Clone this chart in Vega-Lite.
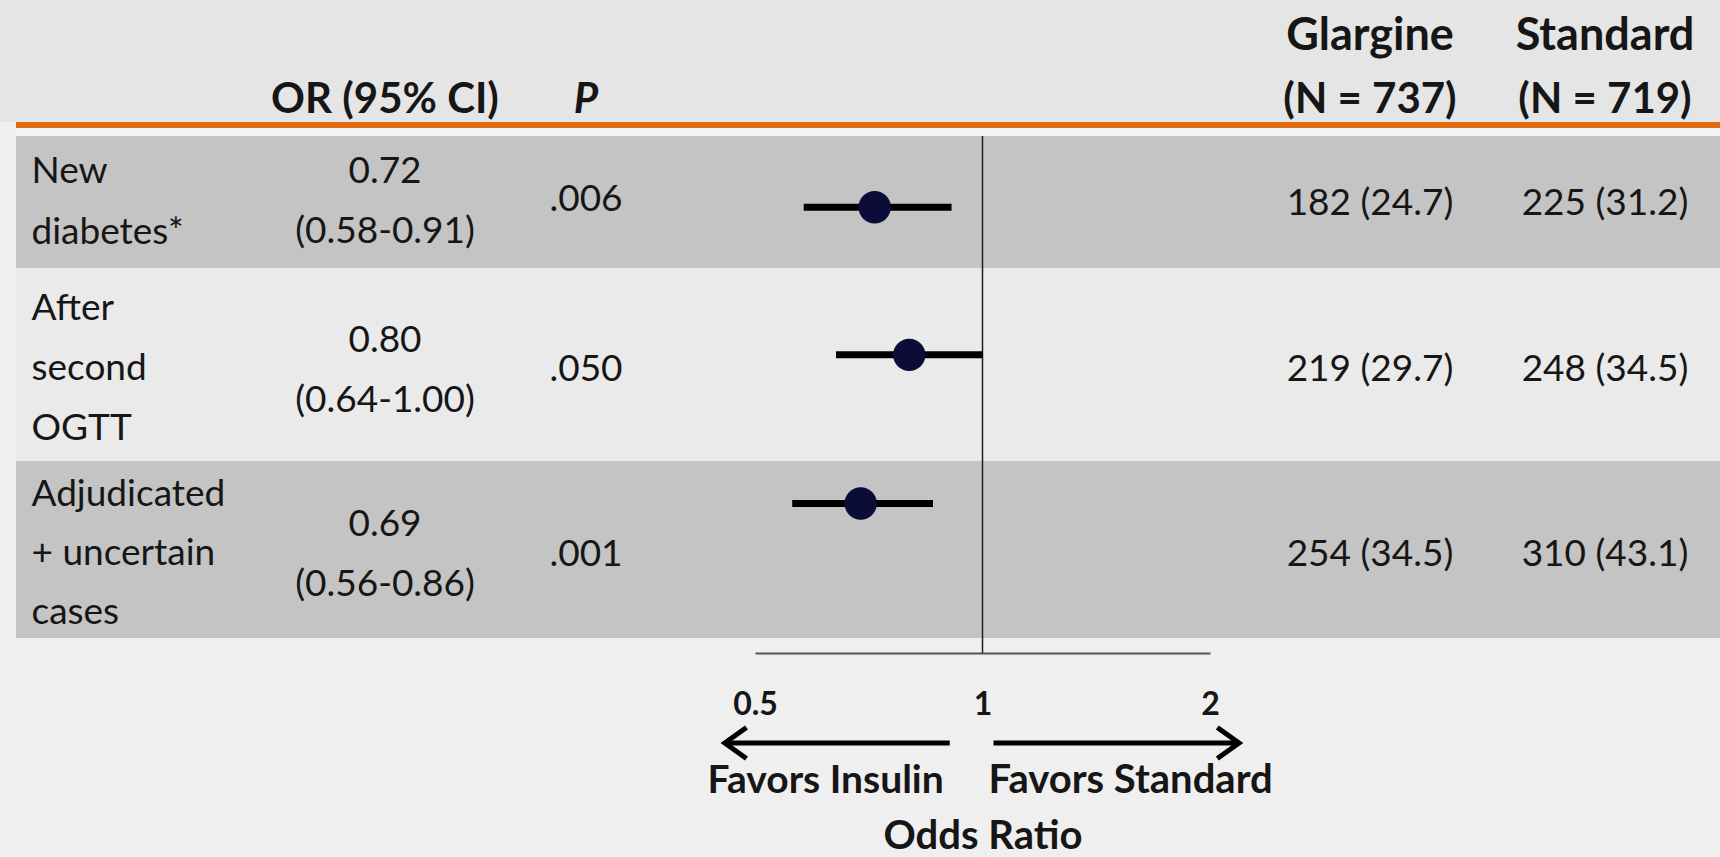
{
"$schema": "https://vega.github.io/schema/vega-lite/v6.json",
"background": "#efefef",
"padding": 0,
"columns": 9,
"spacing": 0,
"bounds": "flush",
"align": "each",
"config": {"view": {"stroke": null}, "concat": {"spacing": 0}, "text": {"font": "Lato", "fontSize": 37, "color": "#161616", "lineHeight": 60, "lineBreak": "\n"}, "axis": {"labelFont": "Lato", "titleFont": "Lato"}},
"datasets": {
"rows": [
{"id": 1, "outcome": "New diabetes", "label": "New\ndiabetes*", "or": 0.72, "lo": 0.58, "hi": 0.91, "or_text": "0.72\n(0.58-0.91)", "p": ".006", "glargine": "182 (24.7)", "standard": "225 (31.2)"},
{"id": 2, "outcome": "After second OGTT", "label": "After\nsecond\nOGTT", "or": 0.80, "lo": 0.64, "hi": 1.00, "or_text": "0.80\n(0.64-1.00)", "p": ".050", "glargine": "219 (29.7)", "standard": "248 (34.5)"},
{"id": 3, "outcome": "Adjudicated + uncertain cases", "label": "Adjudicated\n+ uncertain\ncases", "or": 0.69, "lo": 0.56, "hi": 0.86, "or_text": "0.69\n(0.56-0.86)", "p": ".001", "glargine": "254 (34.5)", "standard": "310 (43.1)"}
],
"headers": [
{"col": "glargine", "line": 1, "text": "Glargine"},
{"col": "standard", "line": 1, "text": "Standard"},
{"col": "or", "line": 2, "text": "OR (95% CI)"},
{"col": "p", "line": 2, "text": "P"},
{"col": "glargine", "line": 2, "text": "(N = 737)"},
{"col": "standard", "line": 2, "text": "(N = 719)"}
],
"refline": [{"value": 1}],
"arrows": [
{"side": "Insulin", "from": 0.905, "to": 0.456, "label": "Favors Insulin"},
{"side": "Standard", "from": 1.034, "to": 2.185, "label": "Favors Standard"}
]
},
"concat": [
{"width":16,"height":72,"view":{"fill":"#e5e5e5"},"data":{"values":[]},"mark":"text","encoding":{}},
{"width":254,"height":72,"view":{"fill":"#e5e5e5"},"data":{"values":[]},"mark":"text","encoding":{}},
{"width":230,"height":72,"view":{"fill":"#e5e5e5"},"data":{"values":[]},"mark":"text","encoding":{}},
{"width":172,"height":72,"view":{"fill":"#e5e5e5"},"data":{"values":[]},"mark":"text","encoding":{}},
{"width":83,"height":72,"view":{"fill":"#e5e5e5"},"data":{"values":[]},"mark":"text","encoding":{}},
{"width":455,"height":72,"view":{"fill":"#e5e5e5"},"data":{"values":[]},"mark":"text","encoding":{}},
{"width":40,"height":72,"view":{"fill":"#e5e5e5"},"data":{"values":[]},"mark":"text","encoding":{}},
{"width":240,"height":72,"view":{"fill":"#e5e5e5"},"data":{"name":"headers"},"transform":[{"filter":"datum.col == 'glargine' && datum.line == 1"}],"mark":{"type":"text","fontSize":45,"fontWeight":"bold"},"encoding":{"text":{"field":"text"}}},
{"width":230,"height":72,"view":{"fill":"#e5e5e5"},"data":{"name":"headers"},"transform":[{"filter":"datum.col == 'standard' && datum.line == 1"}],"mark":{"type":"text","fontSize":45,"fontWeight":"bold"},"encoding":{"text":{"field":"text"}}},

{"width":16,"height":50,"view":{"fill":"#e5e5e5"},"data":{"values":[]},"mark":"text","encoding":{}},
{"width":254,"height":50,"view":{"fill":"#e5e5e5"},"data":{"values":[]},"mark":"text","encoding":{}},
{"width":230,"height":50,"view":{"fill":"#e5e5e5"},"data":{"name":"headers"},"transform":[{"filter":"datum.col == 'or' && datum.line == 2"}],"mark":{"type":"text","fontSize":42,"fontWeight":"bold","dy":3},"encoding":{"text":{"field":"text"}}},
{"width":172,"height":50,"view":{"fill":"#e5e5e5"},"data":{"name":"headers"},"transform":[{"filter":"datum.col == 'p' && datum.line == 2"}],"mark":{"type":"text","fontSize":42,"fontWeight":"bold","fontStyle":"italic","dy":3},"encoding":{"text":{"field":"text"}}},
{"width":83,"height":50,"view":{"fill":"#e5e5e5"},"data":{"values":[]},"mark":"text","encoding":{}},
{"width":455,"height":50,"view":{"fill":"#e5e5e5"},"data":{"values":[]},"mark":"text","encoding":{}},
{"width":40,"height":50,"view":{"fill":"#e5e5e5"},"data":{"values":[]},"mark":"text","encoding":{}},
{"width":240,"height":50,"view":{"fill":"#e5e5e5"},"data":{"name":"headers"},"transform":[{"filter":"datum.col == 'glargine' && datum.line == 2"}],"mark":{"type":"text","fontSize":42,"fontWeight":"bold","dy":3},"encoding":{"text":{"field":"text"}}},
{"width":230,"height":50,"view":{"fill":"#e5e5e5"},"data":{"name":"headers"},"transform":[{"filter":"datum.col == 'standard' && datum.line == 2"}],"mark":{"type":"text","fontSize":42,"fontWeight":"bold","dy":3},"encoding":{"text":{"field":"text"}}},

{"width":16,"height":6,"data":{"values":[]},"mark":"text","encoding":{}},
{"width":254,"height":6,"view":{"fill":"#df6b12"},"data":{"values":[]},"mark":"text","encoding":{}},
{"width":230,"height":6,"view":{"fill":"#df6b12"},"data":{"values":[]},"mark":"text","encoding":{}},
{"width":172,"height":6,"view":{"fill":"#df6b12"},"data":{"values":[]},"mark":"text","encoding":{}},
{"width":83,"height":6,"view":{"fill":"#df6b12"},"data":{"values":[]},"mark":"text","encoding":{}},
{"width":455,"height":6,"view":{"fill":"#df6b12"},"data":{"values":[]},"mark":"text","encoding":{}},
{"width":40,"height":6,"view":{"fill":"#df6b12"},"data":{"values":[]},"mark":"text","encoding":{}},
{"width":240,"height":6,"view":{"fill":"#df6b12"},"data":{"values":[]},"mark":"text","encoding":{}},
{"width":230,"height":6,"view":{"fill":"#df6b12"},"data":{"values":[]},"mark":"text","encoding":{}},

{"width":16,"height":8,"data":{"values":[]},"mark":"text","encoding":{}},
{"width":254,"height":8,"view":{"fill":"#f6f3f5"},"data":{"values":[]},"mark":"text","encoding":{}},
{"width":230,"height":8,"view":{"fill":"#f6f3f5"},"data":{"values":[]},"mark":"text","encoding":{}},
{"width":172,"height":8,"view":{"fill":"#f6f3f5"},"data":{"values":[]},"mark":"text","encoding":{}},
{"width":83,"height":8,"view":{"fill":"#f6f3f5"},"data":{"values":[]},"mark":"text","encoding":{}},
{"width":455,"height":8,"view":{"fill":"#f6f3f5"},"data":{"values":[]},"mark":"text","encoding":{}},
{"width":40,"height":8,"view":{"fill":"#f6f3f5"},"data":{"values":[]},"mark":"text","encoding":{}},
{"width":240,"height":8,"view":{"fill":"#f6f3f5"},"data":{"values":[]},"mark":"text","encoding":{}},
{"width":230,"height":8,"view":{"fill":"#f6f3f5"},"data":{"values":[]},"mark":"text","encoding":{}},

{"width":16,"height":132,"data":{"values":[]},"mark":"text","encoding":{}},
{"width":254,"height":132,"view":{"fill":"#c4c4c4"},"data":{"values":[]},"mark":"text","encoding":{}},
{"width":230,"height":132,"view":{"fill":"#c4c4c4"},"data":{"name":"rows"},"transform":[{"filter":"datum.id == 1"}],"mark":{"type":"text","dy":-30},"encoding":{"text":{"field":"or_text"},"y":{"field":"label","type":"nominal","scale":{"type":"point"},"axis":{"orient":"left","title":null,"domain":false,"ticks":false,"tickSize":0,"grid":false,"labelAlign":"left","labelBaseline":"middle","labelPadding":239,"labelOffset":-31,"labelFont":"Lato","labelFontSize":37,"labelColor":"#161616","labelLineHeight":61,"labelLimit":0,"labelAngle":0,"labelExpr":"split(datum.label, '\\n')"}}}},
{"width":172,"height":132,"view":{"fill":"#c4c4c4"},"data":{"name":"rows"},"transform":[{"filter":"datum.id == 1"}],"mark":{"type":"text","dy":-2},"encoding":{"text":{"field":"p"}}},
{"width":83,"height":132,"view":{"fill":"#c4c4c4"},"data":{"values":[]},"mark":"text","encoding":{}},
{"width":455,"height":132,"view":{"fill":"#c4c4c4"},"layer":[
 {"data":{"name":"refline"},"mark":{"type":"rule","color":"#1e1e1e","strokeWidth":1.5},"encoding":{"x":{"field":"value","type":"quantitative","scale":{"type":"log","domain":[0.5,2],"nice":false},"axis":null}}},
 {"data":{"name":"rows"},"transform":[{"filter":"datum.id == 1"}],"mark":{"type":"rule","color":"#000000","strokeWidth":7},"encoding":{"x":{"field":"lo","type":"quantitative","scale":{"type":"log","domain":[0.5,2],"nice":false},"axis":null},"x2":{"field":"hi"},"y":{"field":"outcome","type":"nominal","scale":{"type":"point","align":0.54},"axis":null}}},
 {"data":{"name":"rows"},"transform":[{"filter":"datum.id == 1"}],"mark":{"type":"point","filled":true,"size":1050,"color":"#0c0c38","opacity":1},"encoding":{"x":{"field":"or","type":"quantitative","scale":{"type":"log","domain":[0.5,2],"nice":false},"axis":null},"y":{"field":"outcome","type":"nominal","scale":{"type":"point","align":0.54},"axis":null}}}
]},
{"width":40,"height":132,"view":{"fill":"#c4c4c4"},"data":{"values":[]},"mark":"text","encoding":{}},
{"width":240,"height":132,"view":{"fill":"#c4c4c4"},"data":{"name":"rows"},"transform":[{"filter":"datum.id == 1"}],"mark":{"type":"text","dy":2},"encoding":{"text":{"field":"glargine"}}},
{"width":230,"height":132,"view":{"fill":"#c4c4c4"},"data":{"name":"rows"},"transform":[{"filter":"datum.id == 1"}],"mark":{"type":"text","dy":2},"encoding":{"text":{"field":"standard"}}},

{"width":16,"height":193,"data":{"values":[]},"mark":"text","encoding":{}},
{"width":254,"height":193,"view":{"fill":"#eaeaea"},"data":{"values":[]},"mark":"text","encoding":{}},
{"width":230,"height":193,"view":{"fill":"#eaeaea"},"data":{"name":"rows"},"transform":[{"filter":"datum.id == 2"}],"mark":{"type":"text","dy":-24},"encoding":{"text":{"field":"or_text"},"y":{"field":"label","type":"nominal","scale":{"type":"point"},"axis":{"orient":"left","title":null,"domain":false,"ticks":false,"tickSize":0,"grid":false,"labelAlign":"left","labelBaseline":"middle","labelPadding":239,"labelOffset":-56,"labelFont":"Lato","labelFontSize":37,"labelColor":"#161616","labelLineHeight":60,"labelLimit":0,"labelAngle":0,"labelExpr":"split(datum.label, '\\n')"}}}},
{"width":172,"height":193,"view":{"fill":"#eaeaea"},"data":{"name":"rows"},"transform":[{"filter":"datum.id == 2"}],"mark":{"type":"text","dy":5},"encoding":{"text":{"field":"p"}}},
{"width":83,"height":193,"view":{"fill":"#eaeaea"},"data":{"values":[]},"mark":"text","encoding":{}},
{"width":455,"height":193,"view":{"fill":"#eaeaea"},"layer":[
 {"data":{"name":"refline"},"mark":{"type":"rule","color":"#1e1e1e","strokeWidth":1.5},"encoding":{"x":{"field":"value","type":"quantitative","scale":{"type":"log","domain":[0.5,2],"nice":false},"axis":null}}},
 {"data":{"name":"rows"},"transform":[{"filter":"datum.id == 2"}],"mark":{"type":"rule","color":"#000000","strokeWidth":7},"encoding":{"x":{"field":"lo","type":"quantitative","scale":{"type":"log","domain":[0.5,2],"nice":false},"axis":null},"x2":{"field":"hi"},"y":{"field":"outcome","type":"nominal","scale":{"type":"point","align":0.45},"axis":null}}},
 {"data":{"name":"rows"},"transform":[{"filter":"datum.id == 2"}],"mark":{"type":"point","filled":true,"size":1050,"color":"#0c0c38","opacity":1},"encoding":{"x":{"field":"or","type":"quantitative","scale":{"type":"log","domain":[0.5,2],"nice":false},"axis":null},"y":{"field":"outcome","type":"nominal","scale":{"type":"point","align":0.45},"axis":null}}}
]},
{"width":40,"height":193,"view":{"fill":"#eaeaea"},"data":{"values":[]},"mark":"text","encoding":{}},
{"width":240,"height":193,"view":{"fill":"#eaeaea"},"data":{"name":"rows"},"transform":[{"filter":"datum.id == 2"}],"mark":{"type":"text","dy":5},"encoding":{"text":{"field":"glargine"}}},
{"width":230,"height":193,"view":{"fill":"#eaeaea"},"data":{"name":"rows"},"transform":[{"filter":"datum.id == 2"}],"mark":{"type":"text","dy":5},"encoding":{"text":{"field":"standard"}}},

{"width":16,"height":177,"data":{"values":[]},"mark":"text","encoding":{}},
{"width":254,"height":177,"view":{"fill":"#c4c4c4"},"data":{"values":[]},"mark":"text","encoding":{}},
{"width":230,"height":177,"view":{"fill":"#c4c4c4"},"data":{"name":"rows"},"transform":[{"filter":"datum.id == 3"}],"mark":{"type":"text","dy":-25},"encoding":{"text":{"field":"or_text"},"y":{"field":"label","type":"nominal","scale":{"type":"point"},"axis":{"orient":"left","title":null,"domain":false,"ticks":false,"tickSize":0,"grid":false,"labelAlign":"left","labelBaseline":"middle","labelPadding":239,"labelOffset":-55,"labelFont":"Lato","labelFontSize":37,"labelColor":"#161616","labelLineHeight":59,"labelLimit":0,"labelAngle":0,"labelExpr":"split(datum.label, '\\n')"}}}},
{"width":172,"height":177,"view":{"fill":"#c4c4c4"},"data":{"name":"rows"},"transform":[{"filter":"datum.id == 3"}],"mark":{"type":"text","dy":5},"encoding":{"text":{"field":"p"}}},
{"width":83,"height":177,"view":{"fill":"#c4c4c4"},"data":{"values":[]},"mark":"text","encoding":{}},
{"width":455,"height":177,"view":{"fill":"#c4c4c4"},"layer":[
 {"data":{"name":"refline"},"mark":{"type":"rule","color":"#1e1e1e","strokeWidth":1.5},"encoding":{"x":{"field":"value","type":"quantitative","scale":{"type":"log","domain":[0.5,2],"nice":false},"axis":null}}},
 {"data":{"name":"rows"},"transform":[{"filter":"datum.id == 3"}],"mark":{"type":"rule","color":"#000000","strokeWidth":7},"encoding":{"x":{"field":"lo","type":"quantitative","scale":{"type":"log","domain":[0.5,2],"nice":false},"axis":null},"x2":{"field":"hi"},"y":{"field":"outcome","type":"nominal","scale":{"type":"point","align":0.24},"axis":null}}},
 {"data":{"name":"rows"},"transform":[{"filter":"datum.id == 3"}],"mark":{"type":"point","filled":true,"size":1050,"color":"#0c0c38","opacity":1},"encoding":{"x":{"field":"or","type":"quantitative","scale":{"type":"log","domain":[0.5,2],"nice":false},"axis":null},"y":{"field":"outcome","type":"nominal","scale":{"type":"point","align":0.24},"axis":null}}}
]},
{"width":40,"height":177,"view":{"fill":"#c4c4c4"},"data":{"values":[]},"mark":"text","encoding":{}},
{"width":240,"height":177,"view":{"fill":"#c4c4c4"},"data":{"name":"rows"},"transform":[{"filter":"datum.id == 3"}],"mark":{"type":"text","dy":5},"encoding":{"text":{"field":"glargine"}}},
{"width":230,"height":177,"view":{"fill":"#c4c4c4"},"data":{"name":"rows"},"transform":[{"filter":"datum.id == 3"}],"mark":{"type":"text","dy":5},"encoding":{"text":{"field":"standard"}}},

{"width":16,"height":15,"data":{"values":[]},"mark":"text","encoding":{}},
{"width":254,"height":15,"data":{"values":[]},"mark":"text","encoding":{}},
{"width":230,"height":15,"data":{"values":[]},"mark":"text","encoding":{}},
{"width":172,"height":15,"data":{"values":[]},"mark":"text","encoding":{}},
{"width":83,"height":15,"data":{"values":[]},"mark":"text","encoding":{}},
{"width":455,"height":15,"data":{"name":"refline"},"mark":{"type":"rule","color":"#1e1e1e","strokeWidth":1.5},"encoding":{"x":{"field":"value","type":"quantitative","scale":{"type":"log","domain":[0.5,2],"nice":false},"axis":{"orient":"bottom","values":[0.5,1,2],"labelExpr":"'' + datum.value","domain":true,"domainColor":"#555555","domainWidth":2,"ticks":false,"tickSize":0,"grid":false,"labelPadding":36,"labelFont":"Lato","labelFontWeight":"bold","labelFontSize":32,"labelColor":"#161616","labelFlush":false,"labelOverlap":false,"title":"Odds Ratio","titleFont":"Lato","titleFontWeight":"bold","titleFontSize":40,"titleColor":"#161616","titlePadding":96}}}},
{"width":40,"height":15,"data":{"values":[]},"mark":"text","encoding":{}},
{"width":240,"height":15,"data":{"values":[]},"mark":"text","encoding":{}},
{"width":230,"height":15,"data":{"values":[]},"mark":"text","encoding":{}},

{"width":16,"height":72,"data":{"values":[]},"mark":"text","encoding":{}},
{"width":254,"height":72,"data":{"values":[]},"mark":"text","encoding":{}},
{"width":230,"height":72,"data":{"values":[]},"mark":"text","encoding":{}},
{"width":172,"height":72,"data":{"values":[]},"mark":"text","encoding":{}},
{"width":83,"height":72,"data":{"values":[]},"mark":"text","encoding":{}},
{"width":455,"height":72,"data":{"values":[]},"mark":"text","encoding":{}},
{"width":40,"height":72,"data":{"values":[]},"mark":"text","encoding":{}},
{"width":240,"height":72,"data":{"values":[]},"mark":"text","encoding":{}},
{"width":230,"height":72,"data":{"values":[]},"mark":"text","encoding":{}},

{"width":16,"height":36,"data":{"values":[]},"mark":"text","encoding":{}},
{"width":254,"height":36,"data":{"values":[]},"mark":"text","encoding":{}},
{"width":230,"height":36,"data":{"values":[]},"mark":"text","encoding":{}},
{"width":172,"height":36,"data":{"values":[]},"mark":"text","encoding":{}},
{"width":83,"height":36,"data":{"values":[]},"mark":"text","encoding":{}},
{"width":455,"height":36,"data":{"name":"arrows"},"layer":[
 {"mark":{"type":"rule","color":"#000000","strokeWidth":5},"encoding":{"x":{"field":"from","type":"quantitative","scale":{"type":"log","domain":[0.5,2],"nice":false},"axis":null},"x2":{"field":"to"}}},
 {"mark":{"type":"point","filled":false,"size":961,"strokeWidth":5,"color":"#000000","opacity":1},"encoding":{"x":{"field":"to","type":"quantitative","scale":{"type":"log","domain":[0.5,2],"nice":false},"axis":null},"shape":{"field":"side","type":"nominal","scale":{"domain":["Insulin","Standard"],"range":["M1.4,-1L0,0L1.4,1","M-1.4,-1L0,0L-1.4,1"]},"legend":null}}}
]},
{"width":40,"height":36,"data":{"values":[]},"mark":"text","encoding":{}},
{"width":240,"height":36,"data":{"values":[]},"mark":"text","encoding":{}},
{"width":230,"height":36,"data":{"values":[]},"mark":"text","encoding":{}},

{"width":16,"height":40,"data":{"values":[]},"mark":"text","encoding":{}},
{"width":254,"height":40,"data":{"values":[]},"mark":"text","encoding":{}},
{"width":230,"height":40,"data":{"values":[]},"mark":"text","encoding":{}},
{"width":172,"height":40,"data":{"values":[]},"mark":"text","encoding":{}},
{"width":83,"height":40,"data":{"values":[]},"mark":"text","encoding":{}},
{"width":455,"height":40,"data":{"name":"arrows"},"layer":[
 {"transform":[{"filter":"datum.side == 'Insulin'"}],"mark":{"type":"text","align":"right","fontWeight":"bold","fontSize":39,"dx":-6},"encoding":{"x":{"field":"from","type":"quantitative","scale":{"type":"log","domain":[0.5,2],"nice":false},"axis":null},"text":{"field":"label"}}},
 {"transform":[{"filter":"datum.side == 'Standard'"}],"mark":{"type":"text","align":"left","fontWeight":"bold","fontSize":40,"dx":-5},"encoding":{"x":{"field":"from","type":"quantitative","scale":{"type":"log","domain":[0.5,2],"nice":false},"axis":null},"text":{"field":"label"}}}
]},
{"width":40,"height":40,"data":{"values":[]},"mark":"text","encoding":{}},
{"width":240,"height":40,"data":{"values":[]},"mark":"text","encoding":{}},
{"width":230,"height":40,"data":{"values":[]},"mark":"text","encoding":{}},

{"width":16,"height":56,"data":{"values":[]},"mark":"text","encoding":{}},
{"width":254,"height":56,"data":{"values":[]},"mark":"text","encoding":{}},
{"width":230,"height":56,"data":{"values":[]},"mark":"text","encoding":{}},
{"width":172,"height":56,"data":{"values":[]},"mark":"text","encoding":{}},
{"width":83,"height":56,"data":{"values":[]},"mark":"text","encoding":{}},
{"width":455,"height":56,"data":{"values":[]},"mark":"text","encoding":{}},
{"width":40,"height":56,"data":{"values":[]},"mark":"text","encoding":{}},
{"width":240,"height":56,"data":{"values":[]},"mark":"text","encoding":{}},
{"width":230,"height":56,"data":{"values":[]},"mark":"text","encoding":{}}
]
}
